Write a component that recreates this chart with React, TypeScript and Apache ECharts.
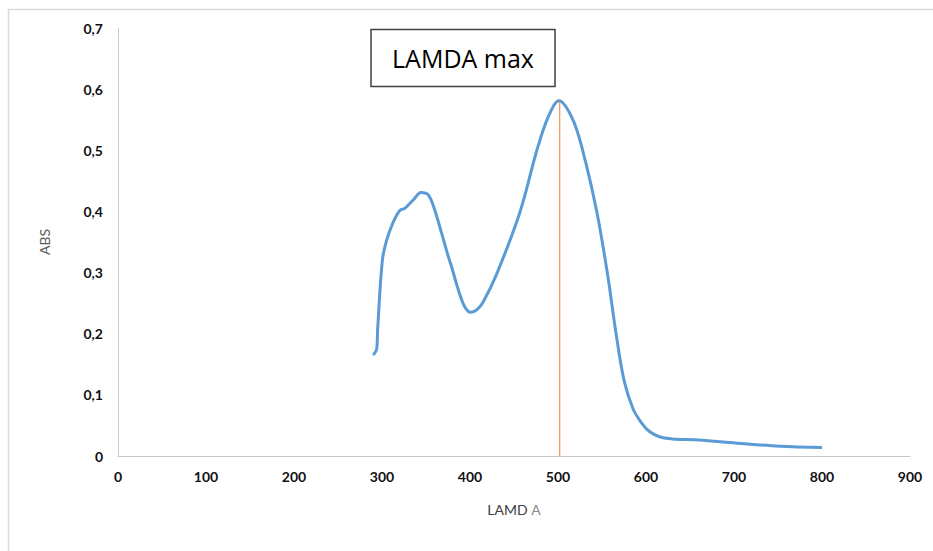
import React, { useEffect, useRef } from "react";
import * as echarts from "echarts";

const wavelengths = [290, 294, 295, 300.4, 305.3, 312.9, 320.5, 326, 335.6, 344.3, 352.6, 360, 367.8, 375.4, 379, 386.7, 394, 400.8, 407.6, 415, 431, 457, 476, 489, 501, 516, 528, 544, 556, 566, 575, 585, 594, 604, 616, 630, 660, 703, 752, 800];
const absorbance = [0.165, 0.175, 0.206, 0.32, 0.353, 0.383, 0.402, 0.405, 0.419, 0.431, 0.427, 0.402, 0.364, 0.326, 0.31, 0.272, 0.244, 0.235, 0.239, 0.252, 0.3, 0.4, 0.5, 0.555, 0.581, 0.553, 0.5, 0.4, 0.3, 0.2, 0.124, 0.078, 0.056, 0.04, 0.031, 0.028, 0.026, 0.021, 0.016, 0.014];
const lambdaMax = 502;
const lambdaMaxAbs = 0.581;
const xTicks = [0, 900, 100];
const yTicks = [0, 0.7, 0.1];

export default function App() {
  const ref = useRef<HTMLDivElement>(null);
  useEffect(() => {
    if (!ref.current) return;
    const chart = echarts.init(ref.current, null, { renderer: "svg" });
    const data = wavelengths.map((w, i) => [w, absorbance[i]]);
    chart.setOption({
      animation: false,
      backgroundColor: "#fff",
      grid: { left: 118, top: 28, right: 23, bottom: 95 },
      xAxis: {
        type: "value",
        min: xTicks[0],
        max: xTicks[1],
        interval: xTicks[2],
        name: "{a|LAMD }{b|A}",
        nameLocation: "middle",
        nameGap: 46,
        nameTextStyle: {
          rich: {
            a: { fontFamily: "Lato", fontSize: 14, color: "#404040" },
            b: { fontFamily: "Lato", fontSize: 14, color: "#8a8a8a" },
          },
        },
        axisLine: { lineStyle: { color: "#c8c8c8", width: 1 } },
        axisTick: { show: false },
        splitLine: { show: false },
        axisLabel: { fontFamily: "Lato", fontWeight: "bold", fontSize: 14, color: "#111", margin: 13 },
      },
      yAxis: {
        type: "value",
        min: yTicks[0],
        max: yTicks[1],
        interval: yTicks[2],
        name: "ABS",
        nameLocation: "middle",
        nameGap: 67,
        nameTextStyle: { fontFamily: "Lato", fontSize: 14, color: "#595959" },
        axisLine: { show: true, lineStyle: { color: "#c8c8c8", width: 1 } },
        axisTick: { show: false },
        splitLine: { show: false },
        axisLabel: {
          fontFamily: "Lato",
          fontWeight: "bold",
          fontSize: 14,
          color: "#111",
          margin: 15,
          formatter: (v: number) => (Math.round(v * 10) / 10).toString().replace(".", ","),
        },
      },
      graphic: [
        {
          type: "rect",
          shape: { x: 8.5, y: 9.5, width: 1200, height: 1200 },
          style: { fill: "none", stroke: "#d9d9d9", lineWidth: 1.5 },
          silent: true,
        },
        {
          type: "rect",
          shape: { x: 371, y: 29.5, width: 184, height: 57 },
          style: { fill: "#fff", stroke: "#404040", lineWidth: 1.5 },
          z: 10,
        },
        {
          type: "text",
          x: 463,
          y: 58,
          style: {
            text: "LAMDA max",
            fontFamily: "Open Sans",
            fontSize: 25,
            fill: "#000",
            align: "center",
            verticalAlign: "middle",
          },
          z: 11,
        },
      ],
      series: [
        {
          type: "line",
          data,
          smooth: 0.35,
          showSymbol: false,
          lineStyle: { color: "#5B9BD5", width: 3 },
          z: 3,
        },
        {
          type: "line",
          data: [[lambdaMax, 0], [lambdaMax, lambdaMaxAbs]],
          showSymbol: false,
          lineStyle: { color: "#ED7D31", width: 1 },
          z: 4,
        },
      ],
    });
    return () => chart.dispose();
  }, []);
  return <div ref={ref} style={{ position: "absolute", left: 0, top: 0, width: 933, height: 551 }} />;
}
